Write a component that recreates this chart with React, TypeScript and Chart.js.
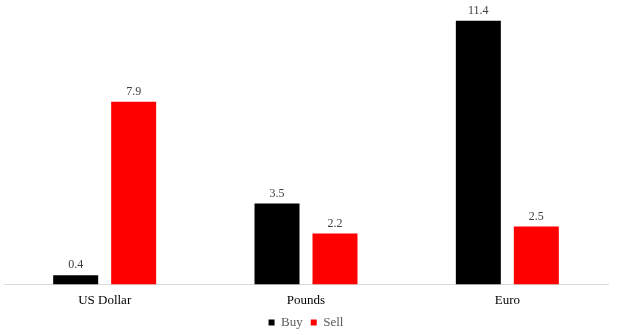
import React, { useEffect, useRef } from "react";
import { Chart, registerables } from "chart.js";

Chart.register(...registerables);

const categories = ["US Dollar", "Pounds", "Euro"];
const buyValues = [0.4, 3.5, 11.4];
const sellValues = [7.9, 2.2, 2.5];

const FONT = "'Liberation Serif', 'Times New Roman', serif";

const valueLabels = {
  id: "valueLabels",
  afterDatasetsDraw(chart: any) {
    const ctx = chart.ctx;
    ctx.save();
    ctx.font = `12px ${FONT}`;
    ctx.fillStyle = "#404040";
    ctx.textAlign = "center";
    ctx.textBaseline = "bottom";
    chart.data.datasets.forEach((ds: any, i: number) => {
      const meta = chart.getDatasetMeta(i);
      meta.data.forEach((el: any, j: number) => {
        ctx.fillText(String(ds.data[j]), el.x, el.y - 4);
      });
    });
    ctx.restore();
  },
};

export default function App() {
  const ref = useRef<HTMLCanvasElement>(null);
  useEffect(() => {
    const chart = new Chart(ref.current!, {
      type: "bar",
      data: {
        labels: categories,
        datasets: [
          { label: "Buy", data: buyValues, backgroundColor: "#000000", categoryPercentage: 0.576, barPercentage: 0.776 },
          { label: "Sell", data: sellValues, backgroundColor: "#ff0000", categoryPercentage: 0.576, barPercentage: 0.776 },
        ],
      },
      options: {
        responsive: false,
        animation: false,
        layout: { padding: { left: 4, right: 12, top: 7, bottom: -4 } },
        plugins: {
          tooltip: { enabled: false },
          legend: {
            position: "bottom",
            labels: {
              boxWidth: 6,
              boxHeight: 6,
              padding: 8,
              color: "#595959",
              font: { family: FONT, size: 13 },
            },
          },
        },
        scales: {
          y: { display: false, min: 0, max: 12 },
          x: {
            grid: { display: false },
            border: { color: "#d9d9d9" },
            ticks: { color: "#000000", font: { family: FONT, size: 13 }, padding: 0 },
          },
        },
      },
      plugins: [valueLabels],
    });
    return () => chart.destroy();
  }, []);
  return (
    <div style={{ position: "fixed", left: 0, top: 0, width: 620, height: 335, background: "#fff" }}>
      <canvas ref={ref} width={620} height={335} />
    </div>
  );
}
